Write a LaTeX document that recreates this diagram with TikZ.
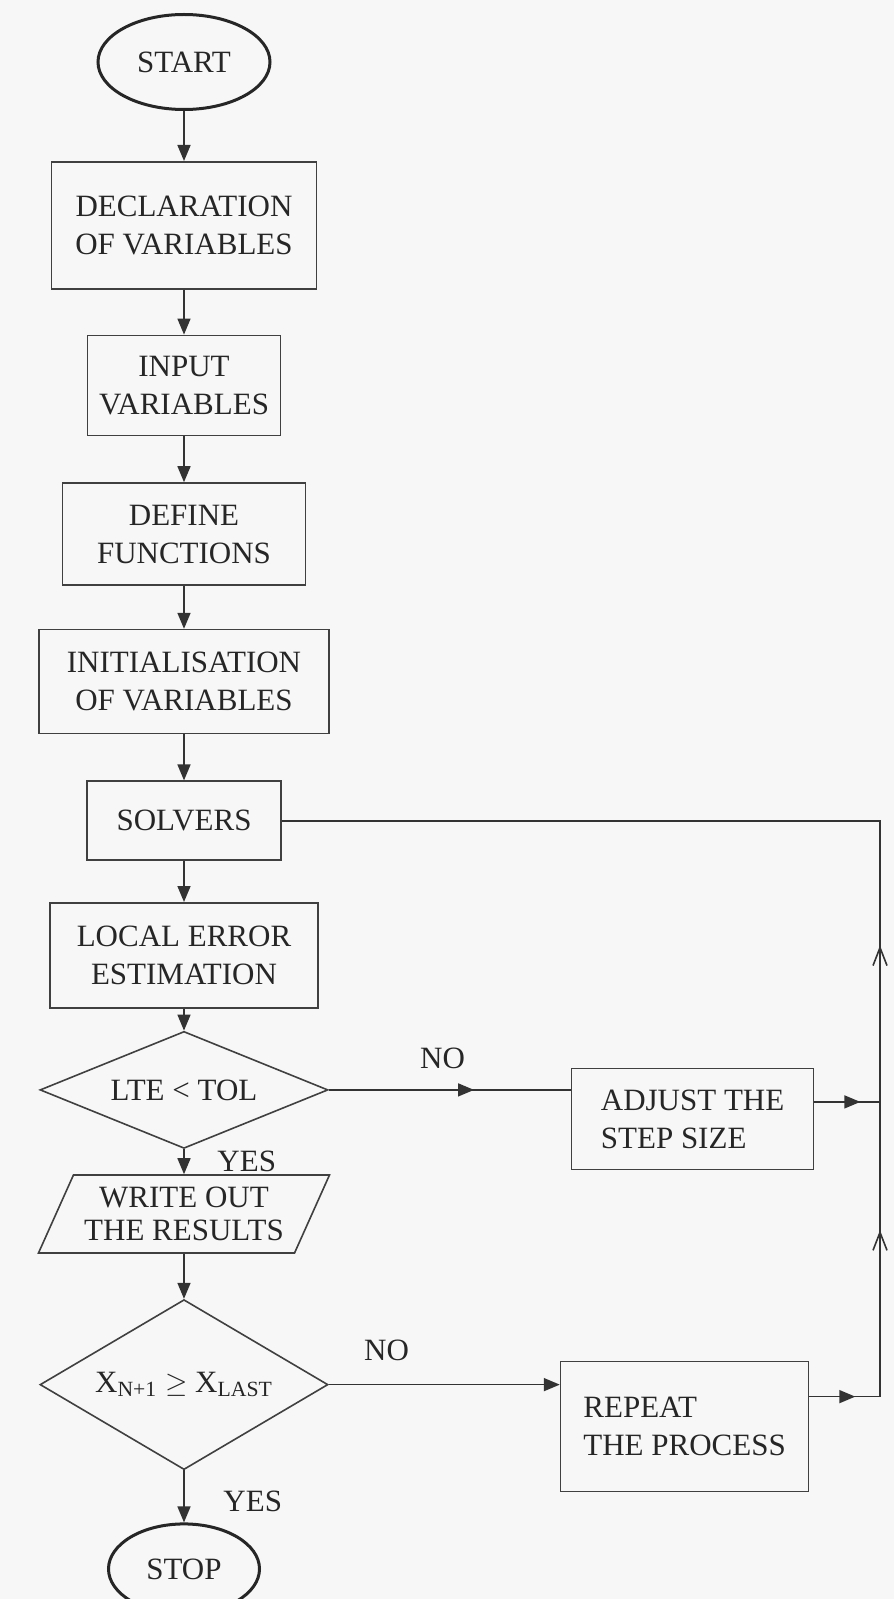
\documentclass[tikz,border=0pt]{standalone}
\usepackage{fontspec}
\setmainfont{Liberation Serif}
\usepackage{tikz}
\usetikzlibrary{positioning,shapes.geometric,arrows.meta,decorations.markings}

\begin{document}
\begin{tikzpicture}[
		x=1pt, y=1pt,
		every node/.style={text=black!85, font=\fontsize{15.5}{19}\selectfont},
		terminal/.style={ellipse, draw=black!85, line width=1.5pt, inner sep=0pt},
		block/.style={rectangle, draw=black!75, line width=0.8pt, inner sep=0pt, align=center},
		decision/.style={diamond, draw=black!75, line width=0.8pt, inner sep=0pt, aspect=2},
		io/.style={trapezium, trapezium left angle=57, trapezium right angle=123, trapezium stretches body, draw=black!75, line width=0.8pt, inner sep=0pt, align=center},
		flow/.style={draw=black!80, line width=0.8pt, -{Triangle[length=8pt,width=6.5pt]}},
		link/.style={draw=black!80, line width=0.8pt},
		midarrow/.style={postaction={decorate}, decoration={markings, mark=at position #1 with {\arrow{Triangle[length=8pt,width=6.5pt]}}}},
		midbarb/.style={postaction={decorate}, decoration={markings, mark=at position #1 with {\arrow{Straight Barb[length=9pt,width=7pt]}}}},
		]
		\fill[black!3] (0,0) rectangle (447,-799.5);
		\useasboundingbox (0,0) rectangle (447,-799.5);

		%Main Column
		\node[terminal, minimum width=86pt, minimum height=47.5pt]	(start)		at (92,-31)				{START};
		\node[block, minimum width=132.5pt, minimum height=63.5pt]	(declare)	[below=25pt of start]	{DECLARATION\\OF VARIABLES};
		\node[block, minimum width=96.5pt, minimum height=50pt]		(input)		[below=22.5pt of declare]	{INPUT\\VARIABLES};
		\node[block, minimum width=121.5pt, minimum height=51pt]	(define)	[below=23pt of input]	{DEFINE\\FUNCTIONS};
		\node[block, minimum width=145pt, minimum height=52pt]		(init)		[below=21.5pt of define]	{INITIALISATION\\OF VARIABLES};
		\node[block, minimum width=97pt, minimum height=39.5pt]		(solvers)	[below=23pt of init]	{SOLVERS};
		\node[block, minimum width=134pt, minimum height=52.5pt]	(lte_est)	[below=20.5pt of solvers]	{LOCAL ERROR\\ESTIMATION};
		\node[decision, minimum width=144pt, minimum height=58.5pt]	(lte)		[below=11pt of lte_est]	{LTE < TOL};
		\node[io, minimum width=145.5pt, minimum height=39pt, font=\fontsize{15.5}{16.5}\selectfont]	(write)	[below=12.5pt of lte]	{WRITE OUT\\THE RESULTS};
		\node[decision, minimum width=144pt, minimum height=85pt]	(last)		[below=22.5pt of write]	{X\textsubscript{N+1} $\geq$ X\textsubscript{LAST}};
		\node[terminal, minimum width=75.5pt, minimum height=45pt]	(stop)		[below=26pt of last]	{STOP};

		%Main Lines
		\draw[flow]	(start)		--	(declare);
		\draw[flow]	(declare)	--	(input);
		\draw[flow]	(input)		--	(define);
		\draw[flow]	(define)	--	(init);
		\draw[flow]	(init)		--	(solvers);
		\draw[flow]	(solvers)	--	(lte_est);
		\draw[flow]	(lte_est)	--	(lte);
		\draw[flow]	(lte)		--	node[right=13pt] (yes_a) {YES}	(write);
		\draw[flow]	(write)		--	(last);
		\draw[flow]	(last)		--	node[pos=0.6, right=16pt] (yes_b) {YES}	(stop);

		%Side Branches
		\node[block, minimum width=121pt, minimum height=50.5pt, align=left]	(adjust)	[right=121pt of lte, yshift=-14.5pt]	{ADJUST THE\\STEP SIZE};
		\node[block, minimum width=124pt, minimum height=65pt, align=left]		(again)		[right=115.5pt of last, yshift=-21pt]	{REPEAT\\THE PROCESS};
		\draw[link, midarrow=0.6]	(lte.east)	--	node[pos=0.47, above=7pt] (no_a) {NO}	(lte.east -| adjust.west);
		\draw[flow]	(last.east)	--	node[pos=0.25, above=8pt] (no_b) {NO}	(last.east -| again.west);

		%Return Rail
		\coordinate	(rail)		at (440,0);
		\coordinate	(adjout)	at ([yshift=8.5pt]adjust.east);
		\coordinate	(againout)	at ([yshift=15pt]again.east);
		\draw[link, midarrow=0.7]	(adjout)	--	(adjout -| rail);
		\draw[link, midarrow=0.65]	(againout)	--	(againout -| rail);
		\draw[link, midbarb=0.565]	(againout -| rail)	--	(adjout -| rail);
		\draw[link, midbarb=0.178]	(adjout -| rail)	--	(solvers.east -| rail)	--	(solvers.east);

	\end{tikzpicture}
\end{document}
